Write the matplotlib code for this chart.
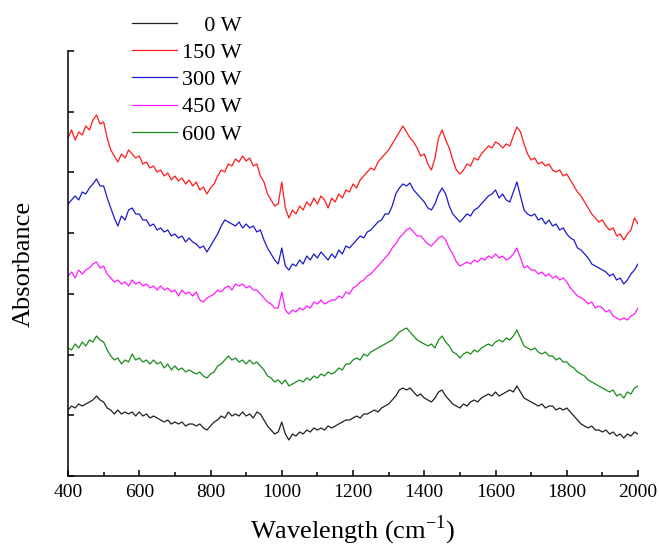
import numpy as np
import matplotlib
matplotlib.use("Agg")
import matplotlib.pyplot as plt

plt.rcParams["font.family"] = ["Liberation Serif", "DejaVu Serif"]

# Wavenumber grid (cm^-1) shared by all spectra
wavenumber = np.arange(400, 2001, 10)

# Absorbance (arbitrary units, vertically offset spectra)
abs_0w = [
    66, 70, 68, 72, 70, 72, 74, 76, 80, 76, 74, 68, 66, 62, 66, 62, 64, 62, 64, 60,
    64, 60, 62, 58, 60, 58, 56, 54, 56, 52, 54, 52, 54, 50, 52, 52, 50, 52, 48, 46,
    50, 54, 56, 60, 58, 64, 60, 62, 60, 64, 60, 62, 58, 64, 62, 56, 50, 46, 42, 44,
    54, 42, 36, 42, 40, 44, 42, 46, 44, 48, 46, 48, 46, 50, 48, 50, 52, 54, 56, 56,
    58, 60, 58, 62, 62, 64, 66, 64, 68, 70, 72, 76, 80, 86, 88, 86, 88, 84, 80, 82,
    78, 76, 74, 78, 84, 86, 80, 76, 72, 70, 68, 72, 70, 74, 76, 74, 78, 80, 82, 80,
    84, 80, 82, 84, 86, 84, 90, 84, 78, 76, 74, 72, 70, 72, 68, 70, 70, 66, 68, 66,
    68, 64, 60, 56, 52, 50, 48, 50, 46, 46, 44, 46, 42, 44, 40, 42, 38, 42, 40, 44,
    42,
]

abs_150w = [
    338, 346, 336, 344, 341, 350, 346, 356, 361, 352, 354, 338, 326, 320, 314, 322, 318, 326, 322, 318,
    320, 312, 314, 308, 310, 304, 306, 300, 303, 296, 300, 295, 298, 292, 296, 290, 294, 286, 289, 282,
    288, 292, 300, 306, 304, 312, 310, 317, 314, 320, 315, 318, 310, 312, 300, 294, 282, 276, 270, 272,
    294, 268, 258, 266, 262, 270, 266, 274, 270, 278, 272, 280, 276, 268, 278, 274, 282, 278, 286, 284,
    292, 288, 296, 300, 304, 308, 306, 314, 318, 322, 326, 332, 338, 344, 350, 344, 338, 334, 328, 320,
    322, 312, 306, 318, 338, 346, 336, 328, 316, 306, 302, 306, 312, 310, 318, 316, 322, 326, 330, 328,
    334, 332, 328, 332, 330, 340, 349, 344, 332, 322, 316, 318, 312, 314, 310, 312, 306, 304, 306, 300,
    302, 296, 290, 284, 280, 274, 268, 262, 258, 254, 256, 250, 246, 248, 240, 242, 236, 242, 246, 258,
    252,
]

abs_300w = [
    272, 276, 280, 276, 284, 282, 288, 292, 297, 290, 290, 278, 268, 258, 250, 260, 256, 266, 268, 262,
    262, 256, 256, 250, 252, 246, 248, 244, 246, 240, 242, 238, 240, 234, 238, 234, 232, 228, 230, 224,
    230, 236, 242, 250, 256, 254, 252, 250, 254, 248, 252, 248, 250, 244, 246, 236, 228, 222, 216, 212,
    228, 210, 206, 212, 210, 216, 212, 220, 216, 222, 218, 224, 220, 216, 222, 218, 226, 222, 230, 228,
    232, 236, 240, 238, 244, 246, 250, 254, 256, 262, 262, 270, 282, 288, 292, 290, 293, 286, 282, 278,
    274, 268, 266, 272, 282, 288, 282, 270, 262, 258, 254, 258, 262, 260, 266, 268, 272, 276, 280, 282,
    286, 278, 282, 276, 274, 284, 294, 280, 266, 262, 260, 262, 256, 258, 252, 256, 250, 252, 246, 248,
    242, 238, 236, 228, 226, 222, 218, 212, 210, 208, 206, 204, 200, 202, 196, 198, 192, 196, 202, 206,
    212,
]

abs_450w = [
    200, 204, 198, 206, 202, 206, 208, 212, 214, 208, 210, 202, 198, 194, 196, 192, 194, 190, 196, 192,
    194, 190, 192, 188, 190, 186, 190, 186, 188, 184, 186, 180, 186, 182, 184, 180, 184, 176, 174, 178,
    180, 182, 186, 184, 188, 190, 186, 192, 190, 192, 188, 190, 186, 186, 182, 178, 174, 172, 168, 168,
    184, 166, 162, 166, 164, 168, 166, 170, 168, 174, 172, 176, 172, 174, 176, 176, 180, 178, 184, 182,
    188, 190, 194, 196, 200, 202, 206, 210, 214, 218, 222, 228, 232, 238, 242, 246, 248, 244, 240, 240,
    236, 232, 230, 234, 238, 240, 236, 228, 222, 214, 210, 212, 214, 212, 216, 214, 218, 216, 220, 218,
    222, 218, 220, 216, 218, 222, 228, 218, 208, 210, 206, 206, 202, 204, 200, 202, 198, 200, 196, 198,
    194, 188, 184, 180, 178, 176, 172, 174, 168, 170, 168, 164, 166, 160, 158, 156, 158, 156, 160, 162,
    168,
]

abs_600w = [
    128, 126, 132, 128, 134, 130, 136, 134, 140, 136, 134, 126, 120, 116, 118, 112, 116, 114, 122, 116,
    118, 114, 116, 112, 116, 112, 114, 108, 112, 106, 110, 106, 108, 104, 106, 104, 102, 104, 100, 98,
    102, 104, 110, 112, 116, 120, 116, 118, 114, 116, 112, 116, 112, 114, 110, 106, 100, 98, 94, 96,
    92, 96, 90, 92, 94, 96, 94, 98, 96, 100, 98, 102, 100, 104, 102, 104, 108, 106, 112, 112,
    116, 118, 116, 122, 120, 124, 126, 128, 130, 132, 134, 136, 140, 144, 146, 148, 144, 140, 136, 134,
    132, 130, 132, 128, 136, 140, 134, 130, 124, 122, 118, 122, 124, 122, 126, 124, 128, 130, 132, 130,
    134, 136, 134, 138, 136, 140, 146, 138, 130, 128, 126, 128, 124, 122, 124, 120, 120, 116, 118, 114,
    114, 110, 108, 104, 102, 100, 96, 94, 92, 90, 88, 86, 84, 86, 80, 82, 78, 84, 82, 88,
    90,
]

labels = ["0 W", "150 W", "300 W", "450 W", "600 W"]
series = [abs_0w, abs_150w, abs_300w, abs_450w, abs_600w]
colors = ["#202020", "#ff1a1a", "#1a1acc", "#ff1aff", "#1a8c1a"]

fig = plt.figure(figsize=(6.59, 5.47), dpi=100)
ax = fig.add_axes([0.1032, 0.1298, 0.8650, 0.7770])

for vals, col, lab in zip(series, colors, labels):
    ax.plot(wavenumber, vals, color=col, lw=0.9, label=lab)

ax.set_xlim(400, 2000)
ax.set_ylim(0, 425)
ax.set_xticks(np.arange(400, 2001, 200))
ax.set_xticks(np.arange(500, 2000, 200), minor=True)
ax.set_yticks(np.linspace(0, 425, 8))
ax.set_yticklabels([])

for side in ("top", "right"):
    ax.spines[side].set_visible(False)
for side in ("left", "bottom"):
    ax.spines[side].set_linewidth(1.1)

ax.tick_params(axis="both", which="major", direction="in", length=4.5, width=1.1,
               labelsize=14, pad=6)
ax.tick_params(axis="x", which="minor", direction="in", length=3.2, width=1.1)

ax.set_xlabel("Wavelength (cm$^{\\mathregular{-1}}$)", fontsize=19, labelpad=9)
ax.set_ylabel("Absorbance", fontsize=19, labelpad=18)

# Legend with right-aligned power labels
pad_labels = ["\u2007\u20070 W", "150 W", "300 W", "450 W", "600 W"]
handles = ax.get_lines()
leg = fig.legend(handles, pad_labels, loc="upper left",
                 bbox_to_anchor=(0.1806, 0.996), bbox_transform=fig.transFigure,
                 frameon=False, fontsize=16, handlelength=2.03, handletextpad=0.22,
                 labelspacing=0.30, borderpad=0.3, borderaxespad=0.285)

fig.savefig("out.png", dpi=100)
